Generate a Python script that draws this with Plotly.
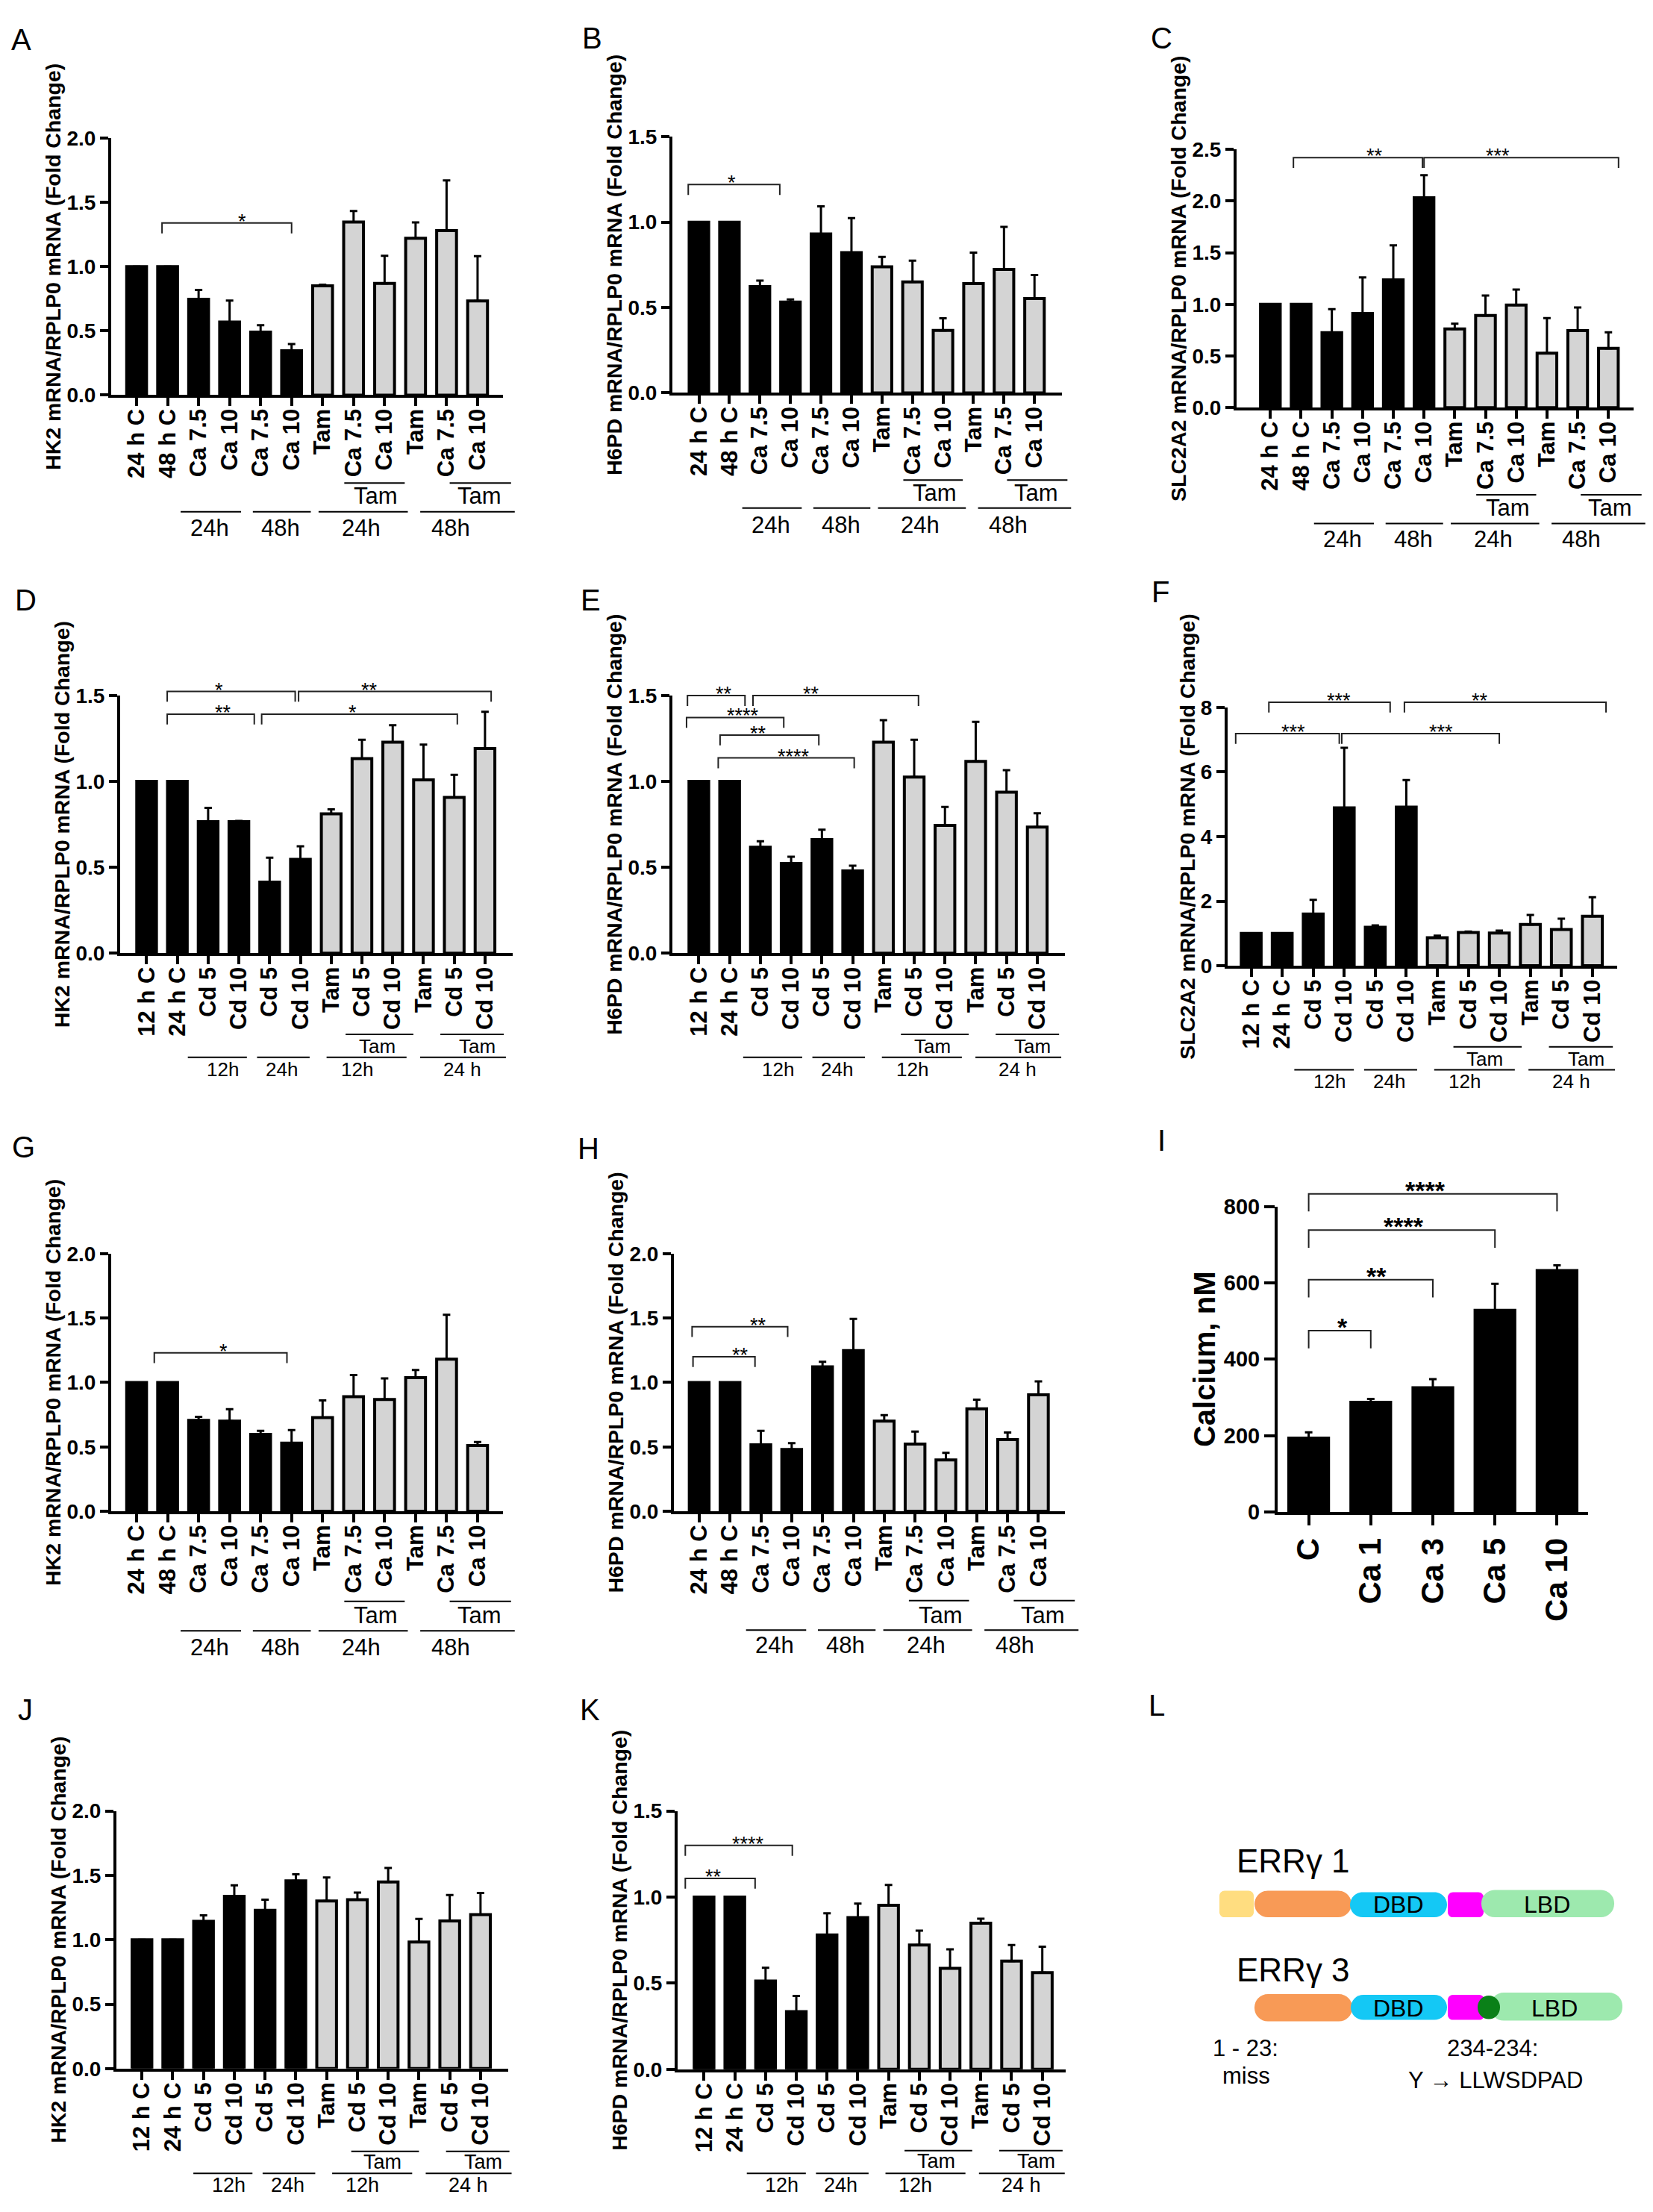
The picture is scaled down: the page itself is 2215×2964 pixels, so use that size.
import plotly.graph_objects as go

# reference size; the page body adds an 8 px margin around the figure
W, H = 2215, 2964
PAGE_MARGIN = 8
FW, FH = W - 2 * PAGE_MARGIN, H - 2 * PAGE_MARGIN
FONT = "Liberation Sans, Arial, sans-serif"

# ---------------- data ----------------
CA_LABELS = ["24 h C", "48 h C", "Ca 7.5", "Ca 10", "Ca 7.5", "Ca 10",
             "Tam", "Ca 7.5", "Ca 10", "Tam", "Ca 7.5", "Ca 10"]
CD_LABELS = ["12 h C", "24 h C", "Cd 5", "Cd 10", "Cd 5", "Cd 10",
             "Tam", "Cd 5", "Cd 10", "Tam", "Cd 5", "Cd 10"]
CALCIUM_LABELS = ["C", "Ca 1", "Ca 3", "Ca 5", "Ca 10"]

A_MEAN = [1.0, 1.0, 0.746, 0.569, 0.491, 0.346, 0.851, 1.348, 0.870, 1.221, 1.281, 0.733]
A_SEM = [0, 0, 0.073, 0.167, 0.054, 0.051, 0.008, 0.086, 0.215, 0.124, 0.391, 0.349]

B_MEAN = [1.0, 1.0, 0.623, 0.532, 0.931, 0.822, 0.739, 0.650, 0.366, 0.640, 0.723, 0.553]
B_SEM = [0, 0, 0.035, 0.015, 0.162, 0.202, 0.057, 0.125, 0.071, 0.182, 0.249, 0.137]

C_MEAN = [1.0, 1.0, 0.725, 0.912, 1.237, 2.032, 0.762, 0.892, 0.993, 0.528, 0.746, 0.575]
C_SEM = [0, 0, 0.228, 0.348, 0.334, 0.217, 0.050, 0.194, 0.150, 0.338, 0.223, 0.154]

D_MEAN = [1.0, 1.0, 0.766, 0.766, 0.414, 0.546, 0.811, 1.133, 1.229, 1.009, 0.907, 1.192]
D_SEM = [0, 0, 0.080, 0.004, 0.142, 0.076, 0.027, 0.110, 0.098, 0.206, 0.132, 0.214]

E_MEAN = [1.0, 1.0, 0.617, 0.522, 0.662, 0.479, 1.229, 1.025, 0.744, 1.117, 0.937, 0.734]
E_SEM = [0, 0, 0.035, 0.040, 0.057, 0.030, 0.128, 0.218, 0.108, 0.230, 0.129, 0.081]

F_MEAN = [1.0, 1.0, 1.60, 4.89, 1.19, 4.91, 0.87, 1.03, 1.01, 1.28, 1.12, 1.53]
F_SEM = [0, 0, 0.44, 1.86, 0.06, 0.84, 0.06, 0.03, 0.08, 0.29, 0.34, 0.59]

G_MEAN = [1.0, 1.0, 0.706, 0.700, 0.597, 0.529, 0.727, 0.890, 0.868, 1.037, 1.180, 0.510]
G_SEM = [0, 0, 0.027, 0.092, 0.027, 0.101, 0.133, 0.168, 0.163, 0.059, 0.345, 0.027]

H_MEAN = [1.0, 1.0, 0.516, 0.480, 1.121, 1.248, 0.700, 0.521, 0.399, 0.795, 0.556, 0.904]
H_SEM = [0, 0, 0.108, 0.049, 0.040, 0.245, 0.046, 0.098, 0.054, 0.071, 0.055, 0.105]

I_MEAN = [193.5, 287.0, 325.5, 528.0, 632.0]
I_SEM = [15.2, 9.0, 22.5, 69.5, 13.7]

J_MEAN = [1.0, 1.0, 1.144, 1.338, 1.229, 1.457, 1.301, 1.312, 1.449, 0.983, 1.146, 1.195]
J_SEM = [0, 0, 0.046, 0.085, 0.083, 0.051, 0.182, 0.054, 0.109, 0.179, 0.202, 0.169]

K_MEAN = [1.0, 1.0, 0.513, 0.335, 0.780, 0.881, 0.952, 0.722, 0.586, 0.848, 0.629, 0.561]
K_SEM = [0, 0, 0.077, 0.091, 0.126, 0.081, 0.118, 0.083, 0.111, 0.027, 0.093, 0.151]

# significance brackets: (from bar, to bar, height, stars, star position)
A_SIG = [(0.82, 5.0, 1.34, "*", 3.4)]
B_SIG = [(-0.35, 2.65, 1.22, "*", 0.9)]
C_SIG = [(0.75, 4.95, 2.42, "**", 3.08), (5.0, 11.33, 2.42, "***", 7.4)]
D_SIG = [(0.67, 4.83, 1.524, "*", 2.18), (4.94, 11.2, 1.524, "**", 7.24),
         (0.67, 3.5, 1.392, "**", 2.18), (3.74, 10.1, 1.392, "*", 6.7)]
E_SIG = [(-0.37, 1.5, 1.5, "**", 0.5), (1.76, 7.14, 1.5, "**", 3.34),
         (-0.4, 2.76, 1.372, "****", 0.86), (0.69, 3.9, 1.27, "**", 1.62),
         (0.63, 5.05, 1.137, "****", 2.5)]
F_SIG = [(0.57, 4.48, 8.16, "***", 2.4), (4.94, 11.44, 8.16, "**", 7.37),
         (-0.5, 2.84, 7.19, "***", 0.93), (2.92, 8.0, 7.19, "***", 6.12)]
G_SIG = [(0.57, 4.85, 1.23, "*", 2.63)]
H_SIG = [(-0.23, 2.87, 1.433, "**", 1.61), (-0.2, 1.81, 1.2, "**", 1.03)]
I_SIG = [(0, 4, 833, "****", 1.88), (0, 3, 738, "****", 1.53),
         (0, 2, 608, "**", 0.91), (0, 1, 475, "*", 0.44)]
J_SIG = []
K_SIG = [(-0.61, 2.87, 1.30, "****", 0.86), (-0.61, 1.66, 1.109, "**", 0.0)]

# treatment groups drawn under the tick labels: (text, from, to, text position)
CA_TIME_GROUPS = [("24h", 1.42, 3.37, 2.35), ("48h", 3.75, 5.62, 4.65),
                  ("24h", 5.87, 8.75, 7.25), ("48h", 9.15, 12.2, 10.13)]
CA_TAM_GROUPS = [("Tam", 6.7, 8.65, 7.72), ("Tam", 10.1, 12.08, 11.05)]
CD_TIME_GROUPS = [("12h", 1.39, 3.31, 2.53), ("24h", 3.64, 5.35, 4.45),
                  ("12h", 5.9, 8.5, 6.88), ("24 h", 8.94, 11.73, 10.32)]
CD_TAM_GROUPS = [("Tam", 6.52, 8.72, 7.54), ("Tam", 9.6, 11.66, 10.8)]

HK2 = "HK2 mRNA/RPLP0 mRNA (Fold Change)"
H6PD = "H6PD mRNA/RPLP0 mRNA (Fold Change)"
SLC = "SLC2A2 mRNA/RPLP0 mRNA (Fold Change)"

# ---------------- panel placement (pixel boxes: axis left, top, right, zero line) ----------------
PANELS = [
    dict(letter="A", pos=(28, 37), labels=CA_LABELS, mean=A_MEAN, sem=A_SEM, sig=A_SIG,
         title=HK2, ymax=2.0, dtick=0.5, box=(149, 171, 674, 519), xr=(-0.82, 11.82),
         kind="ca", off=(119, 137, 158, 180), gsize=31, gshift=0.0),
    dict(letter="B", pos=(793, 35), labels=CA_LABELS, mean=B_MEAN, sem=B_SEM, sig=B_SIG,
         title=H6PD, ymax=1.5, dtick=0.5, box=(901, 169, 1423, 516), xr=(-0.87, 11.9),
         kind="ca", off=(118, 135, 156, 179), gsize=31, gshift=0.0),
    dict(letter="C", pos=(1556, 35), labels=CA_LABELS, mean=C_MEAN, sem=C_SEM, sig=C_SIG,
         title=SLC, ymax=2.5, dtick=0.5, box=(1657, 186, 2189, 536), xr=(-1.1, 11.82),
         kind="ca", off=(118, 136, 157, 178), gsize=31, gshift=0.0),
    dict(letter="D", pos=(34, 797), labels=CD_LABELS, mean=D_MEAN, sem=D_SEM, sig=D_SIG,
         title=HK2, ymax=1.5, dtick=0.5, box=(161, 926, 687, 1275), xr=(-0.86, 11.9),
         kind="cd", off=(110, 126, 141, 157), gsize=26, gshift=-0.05),
    dict(letter="E", pos=(791, 797), labels=CD_LABELS, mean=E_MEAN, sem=E_SEM, sig=E_SIG,
         title=H6PD, ymax=1.5, dtick=0.5, box=(901, 926, 1427, 1275), xr=(-0.86, 11.9),
         kind="cd", off=(110, 126, 141, 157), gsize=26, gshift=0.05),
    dict(letter="F", pos=(1555, 785), labels=CD_LABELS, mean=F_MEAN, sem=F_SEM, sig=F_SIG,
         title=SLC, ymax=8, dtick=2, box=(1645, 942, 2167, 1292), xr=(-0.76, 11.8),
         kind="cd", off=(110, 126, 141, 157), gsize=26, gshift=0.0),
    dict(letter="G", pos=(31, 1538), labels=CA_LABELS, mean=G_MEAN, sem=G_SEM, sig=G_SIG,
         title=HK2, ymax=2.0, dtick=0.5, box=(149, 1682, 674, 2031), xr=(-0.82, 11.82),
         kind="ca", off=(122, 141, 162, 184), gsize=31, gshift=0.0),
    dict(letter="H", pos=(788, 1540), labels=CA_LABELS, mean=H_MEAN, sem=H_SEM, sig=H_SIG,
         title=H6PD, ymax=2.0, dtick=0.5, box=(903, 1682, 1427, 2031), xr=(-0.82, 11.86),
         kind="ca", off=(121, 141, 161, 181), gsize=31, gshift=0.1),
    dict(letter="I", pos=(1556, 1529), labels=CALCIUM_LABELS, mean=I_MEAN, sem=I_SEM, sig=I_SIG,
         title="Calcium, nM", ymax=800, dtick=200, box=(1712, 1618, 2128, 2032), xr=(-0.5, 4.5),
         kind="conc"),
    dict(letter="J", pos=(34, 2300), labels=CD_LABELS, mean=J_MEAN, sem=J_SEM, sig=J_SIG,
         title=HK2, ymax=2.0, dtick=0.5, box=(156, 2437, 681, 2786), xr=(-0.83, 11.9),
         kind="cd", off=(112, 127, 142, 158), gsize=27, gshift=0.28),
    dict(letter="K", pos=(790, 2300), labels=CD_LABELS, mean=K_MEAN, sem=K_SEM, sig=K_SIG,
         title=H6PD, ymax=1.5, dtick=0.5, box=(908, 2437, 1428, 2787), xr=(-0.86, 11.76),
         kind="cd", off=(110, 125, 141, 157), gsize=27, gshift=0.0),
]

GREY = "#d4d4d4"


def px(x):
    return (x - PAGE_MARGIN) / FW


def py(y):
    return 1 - (y - PAGE_MARGIN) / FH


def refs(n):
    if n == 1:
        return "x domain", "y domain"
    return f"x{n} domain", f"y{n} domain"


fig = go.Figure()
layout_axes = {}
shapes = []
annotations = []

for n, p in enumerate(PANELS, start=1):
    x0, top, x1, bot = p["box"]
    ph = bot - top
    xr = p["xr"]
    k = len(p["mean"])
    conc = p["kind"] == "conc"
    colors = ["black"] * k if conc else ["black"] * 6 + [GREY] * 6

    fig.add_trace(go.Bar(
        x=list(range(k)), y=p["mean"],
        width=0.64,
        marker=dict(color=colors, line=dict(color="black", width=4)),
        error_y=dict(type="data", symmetric=False, array=p["sem"], arrayminus=[0] * k,
                     color="black", thickness=3, width=5),
        xaxis=f"x{n}", yaxis=f"y{n}", showlegend=False))

    xname = "xaxis" if n == 1 else f"xaxis{n}"
    yname = "yaxis" if n == 1 else f"yaxis{n}"
    layout_axes[xname] = dict(
        domain=[px(x0), px(x1)], anchor=f"y{n}", range=list(xr),
        tickvals=list(range(k)), ticktext=p["labels"], tickangle=-90,
        tickfont=dict(family=FONT, size=42 if conc else 31, color="black", weight="bold"),
        ticklabelstandoff=0 if conc else -9,
        showline=True, linewidth=4, linecolor="black", ticks="outside",
        ticklen=14 if conc else 11, tickwidth=4, tickcolor="black",
        showgrid=False, zeroline=False)
    layout_axes[yname] = dict(
        domain=[py(bot), py(top)], anchor=f"x{n}", range=[0, p["ymax"]],
        dtick=p["dtick"], tickformat="d" if p["dtick"] >= 2 else ".1f",
        tickfont=dict(family=FONT, size=29 if conc else 28, color="black", weight="bold"),
        showline=True, linewidth=4, linecolor="black", ticks="outside",
        ticklen=14 if conc else 11, tickwidth=4, tickcolor="black",
        showgrid=False, zeroline=False,
        title=dict(text=p["title"], standoff=0,
                   font=dict(family=FONT, size=40 if conc else 28.5, color="black",
                             weight="bold")))

    xref, yref = refs(n)

    def fx(v, xr=xr):
        return (v - xr[0]) / (xr[1] - xr[0])

    # significance brackets; the star box is trimmed to the glyph band
    tick_px = 24 if conc else 14
    for a, b, yv, stars, sx in p["sig"]:
        fy = yv / p["ymax"]
        dt = tick_px / ph
        shapes.append(dict(
            type="path", xref=xref, yref=yref,
            path=f"M{fx(a)},{fy - dt} L{fx(a)},{fy} L{fx(b)},{fy} L{fx(b)},{fy - dt}",
            line=dict(color="#222222", width=2)))
        annotations.append(dict(
            x=fx(sx), y=fy, xref=xref, yref=yref, text=stars, showarrow=False,
            yanchor="bottom", valign="top", height=24 if conc else 19,
            yshift=-2 if conc else -4,
            font=dict(family=FONT, size=34 if conc else 27, color="black",
                      weight="bold" if conc else "normal")))

    # treatment group lines under the tick labels
    if not conc:
        tam_line, tam_text, time_line, time_text = p["off"]
        time_groups = CA_TIME_GROUPS if p["kind"] == "ca" else CD_TIME_GROUPS
        tam_groups = CA_TAM_GROUPS if p["kind"] == "ca" else CD_TAM_GROUPS
        sh = p["gshift"]
        for rows, ly, ty in ((tam_groups, tam_line, tam_text),
                             (time_groups, time_line, time_text)):
            for txt, a, b, c in rows:
                shapes.append(dict(type="line", xref=xref, yref=yref,
                                   x0=fx(a + sh), x1=fx(b + sh), y0=-ly / ph, y1=-ly / ph,
                                   line=dict(color="black", width=2)))
                annotations.append(dict(
                    x=fx(c + sh), y=-ty / ph, xref=xref, yref=yref, text=txt,
                    showarrow=False, xanchor="center", yanchor="middle",
                    font=dict(family=FONT, size=p["gsize"], color="black")))

    # panel letter
    annotations.append(dict(
        x=px(p["pos"][0]), y=py(p["pos"][1]), xref="paper", yref="paper",
        text=p["letter"], showarrow=False, xanchor="center", yanchor="middle",
        font=dict(family=FONT, size=40, color="black")))


# ---------------- panel L: ERRgamma domain schematic ----------------
def rounded(x0, y0, x1, y1, r):
    # rounded rectangle drawn with cubic curves, pixel coords in
    c = 0.5523 * r
    pts = [("M", (x0 + r, y0)), ("L", (x1 - r, y0)),
           ("C", (x1 - r + c, y0), (x1, y0 + r - c), (x1, y0 + r)),
           ("L", (x1, y1 - r)),
           ("C", (x1, y1 - r + c), (x1 - r + c, y1), (x1 - r, y1)),
           ("L", (x0 + r, y1)),
           ("C", (x0 + r - c, y1), (x0, y1 - r + c), (x0, y1 - r)),
           ("L", (x0, y0 + r)),
           ("C", (x0, y0 + r - c), (x0 + r - c, y0), (x0 + r, y0))]
    out = []
    for item in pts:
        coords = " ".join(f"{px(x):.6f},{py(y):.6f}" for x, y in item[1:])
        out.append(f"{item[0]}{coords}")
    return " ".join(out) + " Z"


L_BLOCKS = [
    (1634, 2545, 1680, 2581, 7, "#ffdd80"),
    (1681, 2545, 1811, 2581, 18, "#f89a56"),
    (1809, 2547, 1939, 2581, 17, "#14c8f5"),
    (1940, 2547, 1988, 2581, 7, "#ff00ff"),
    (1985, 2544, 2163, 2581, 18, "#9de9ae"),
    (1681, 2685, 1812, 2722, 18, "#f89a56"),
    (1810, 2686, 1939, 2720, 17, "#14c8f5"),
    (1940, 2686, 1989, 2720, 7, "#ff00ff"),
    (1997, 2683, 2174, 2721, 18, "#9de9ae"),
]
for x0, y0, x1, y1, r, col in L_BLOCKS:
    shapes.append(dict(type="path", xref="paper", yref="paper", path=rounded(x0, y0, x1, y1, r),
                       fillcolor=col, line=dict(width=0)))
shapes.append(dict(type="circle", xref="paper", yref="paper",
                   x0=px(1980), x1=px(2010), y0=py(2719), y1=py(2687),
                   fillcolor="#0a8018", line=dict(width=0)))

L_TEXT = [
    ("L", 1550, 2294, 40, "center"),
    ("ERRγ 1", 1655, 2505, 44, "left"),
    ("ERRγ 3", 1655, 2652, 44, "left"),
    ("DBD", 1874, 2564, 32, "center"),
    ("LBD", 2073, 2564, 32, "center"),
    ("DBD", 1874, 2704, 32, "center"),
    ("LBD", 2083, 2704, 32, "center"),
    ("1 - 23:", 1669, 2758, 31, "center"),
    ("miss", 1670, 2796, 31, "center"),
    ("234-234:", 2000, 2758, 31, "center"),
    ("Y → LLWSDPAD", 2004, 2802, 31, "center"),
]
for txt, x, y, size, anchor in L_TEXT:
    annotations.append(dict(x=px(x), y=py(y), xref="paper", yref="paper", text=txt,
                            showarrow=False, xanchor=anchor, yanchor="middle",
                            font=dict(family=FONT, size=size, color="black")))

fig.update_layout(
    width=FW, height=FH,
    margin=dict(l=0, r=0, t=0, b=0),
    paper_bgcolor="white", plot_bgcolor="white",
    font=dict(family=FONT, color="black"),
    shapes=shapes, annotations=annotations,
    showlegend=False,
    **layout_axes)

fig.write_html("out.html")
